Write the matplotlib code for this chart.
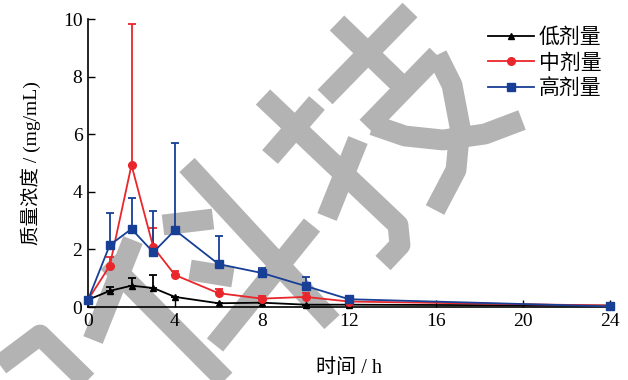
import numpy as np
import matplotlib
matplotlib.use("Agg")
import matplotlib.pyplot as plt
from matplotlib.lines import Line2D

plt.rcParams['font.family'] = ['Liberation Serif', 'Noto Sans CJK SC']
plt.rcParams['axes.unicode_minus'] = False

# ─────────────────────────────
# DATA
# ─────────────────────────────
time_h = [0, 1, 2, 3, 4, 6, 8, 10, 12, 24]

low_mean = [0.25, 0.56, 0.74, 0.66, 0.35, 0.13, 0.15, 0.08, 0.08, 0.05]
low_err  = [0.00, 0.14, 0.27, 0.45, 0.00, 0.00, 0.00, 0.00, 0.00, 0.00]

mid_mean = [0.25, 1.43, 4.93, 2.08, 1.11, 0.48, 0.29, 0.35, 0.19, 0.05]
mid_err  = [0.00, 0.32, 4.90, 0.66, 0.14, 0.14, 0.09, 0.13, 0.00, 0.00]

high_mean = [0.25, 2.15, 2.71, 1.90, 2.67, 1.49, 1.18, 0.73, 0.27, 0.02]
high_err  = [0.00, 1.11, 1.09, 1.43, 3.03, 0.98, 0.17, 0.31, 0.00, 0.00]

series_names = ['低剂量', '中剂量', '高剂量']
x_ticks = [0, 4, 8, 12, 16, 20, 24]
y_ticks = [0, 2, 4, 6, 8, 10]

# watermark strokes, figure pixels (y down)
WATERMARK = [
    [(410, 10), (325, 97)],
    [(337, 23), (398, 82)],
    [(437, 55), (367, 127)],
    [(437, 55), (452, 85), (460, 127), (456, 170), (435, 210)],
    [(373, 125), (405, 136), (443, 140), (485, 134), (522, 120)],
    [(317, 103), (270, 157)],
    [(263, 97), (398, 225), (400, 245), (383, 263)],
    [(358, 140), (327, 217)],
    [(187, 165), (332, 322)],
    [(312, 225), (215, 345)],
    [(133, 240), (93, 340)],
    [(108, 262), (225, 380)],
    [(163, 225), (213, 219)],
    [(190, 270), (233, 277)],
    [(0, 365), (40, 335), (88, 382)],
]

W, H = 628, 380
fig = plt.figure(figsize=(6.28, 3.80), dpi=100)
ax = fig.add_axes([88 / W, 1 - 307 / H, (610 - 88) / W, (307 - 19) / H])
ax.set_facecolor('none')

for stroke in WATERMARK:
    xs = [p[0] / W for p in stroke]
    ys = [1 - p[1] / H for p in stroke]
    fig.add_artist(Line2D(xs, ys, transform=fig.transFigure, color='#b3b3b3',
                          linewidth=15, solid_capstyle='butt',
                          solid_joinstyle='round', zorder=-5))

styles = [
    (low_mean, low_err, 'black', '^', 5),
    (mid_mean, mid_err, '#e8262b', 'o', 5.5),
    (high_mean, high_err, '#173f95', 's', 6),
]

for (mean, err, color, marker, ms), name in zip(styles, series_names):
    yerr = [np.zeros(len(err)), err]
    ax.errorbar(time_h, mean, yerr=yerr, color=color, marker=marker,
                markersize=ms, linewidth=1.3, elinewidth=1.3, capsize=3,
                capthick=1.3, label=name, clip_on=False, zorder=3)

ax.set_xlim(0, 24)
ax.set_ylim(0, 10)
ax.set_xticks(x_ticks)
ax.set_yticks(y_ticks)
ax.spines['top'].set_visible(False)
ax.spines['right'].set_visible(False)
for s in ['left', 'bottom']:
    ax.spines[s].set_linewidth(1.2)
ax.tick_params(direction='in', length=5, width=1, labelsize=14, pad=4)

ax.set_xlabel('时间 / h', fontsize=14.5, labelpad=21)
ax.set_ylabel('质量浓度 / (mg/mL)', fontsize=14, labelpad=16)

handles, labels = ax.get_legend_handles_labels()
handles = [h[0] for h in handles]
ax.legend(handles, labels, loc='upper right', bbox_to_anchor=(1.0, 0.995),
          frameon=False, fontsize=15, handlelength=2.2, handletextpad=0.25,
          labelspacing=0.28, borderaxespad=0)

plt.savefig('out.png', dpi=100)
plt.close()
